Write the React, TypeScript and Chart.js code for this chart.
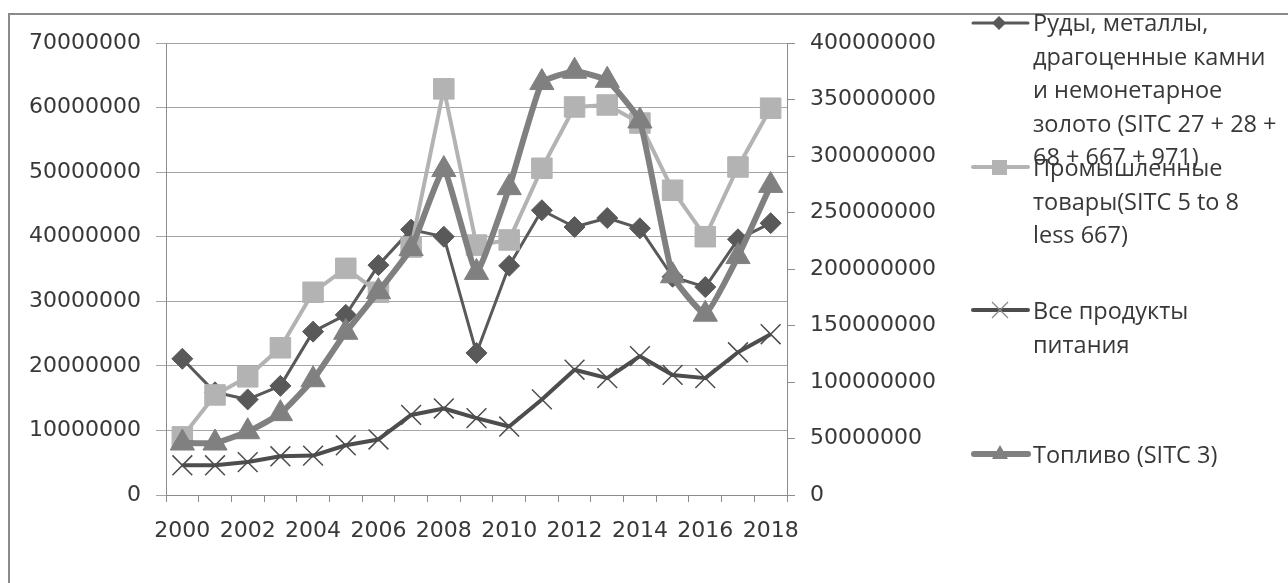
import React, { useEffect, useRef } from 'react';
import { Chart, registerables } from 'chart.js';

Chart.register(...registerables);

const years = ['2000', '2001', '2002', '2003', '2004', '2005', '2006', '2007', '2008', '2009', '2010', '2011', '2012', '2013', '2014', '2015', '2016', '2017', '2018'];

// left axis
const oresMetals = [21100000, 15900000, 14800000, 16900000, 25300000, 27900000, 35600000, 41100000, 40000000, 22000000, 35500000, 44100000, 41500000, 42900000, 41300000, 33800000, 32200000, 39600000, 42100000];
const manufactured = [9000000, 15500000, 18300000, 22800000, 31400000, 35100000, 31400000, 38400000, 62900000, 38700000, 39500000, 50600000, 60100000, 60400000, 57600000, 47200000, 40000000, 50800000, 59900000];
const food = [4600000, 4600000, 5100000, 6000000, 6100000, 7700000, 8600000, 12400000, 13400000, 11900000, 10600000, 14800000, 19400000, 18100000, 21500000, 18600000, 18100000, 22100000, 24900000];
// right axis
const fuel = [46000000, 46000000, 56000000, 72000000, 102000000, 144000000, 180000000, 218000000, 288000000, 197000000, 272000000, 365000000, 375000000, 367000000, 331000000, 194000000, 160000000, 211000000, 274000000];

const leftMax = 70000000;
const leftStep = 10000000;
const rightMax = 400000000;
const rightStep = 50000000;

const nameOres = ['Руды, металлы,', 'драгоценные камни', 'и немонетарное', 'золото (SITC 27 + 28 +', '68 + 667 + 971)'];
const nameManufactured = ['Промышленные', 'товары(SITC 5 to 8', 'less 667)'];
const nameFood = ['Все продукты', 'питания'];
const nameFuel = ['Топливо (SITC 3)'];

const tickFont = { family: 'DejaVu Sans', size: 22 };
const tickColor = '#383838';
const axisColor = '#8c8c8c';

function LegendMarker({ kind, top }: { kind: string; top: number }) {
  let line: React.ReactNode = null;
  let mark: React.ReactNode = null;
  if (kind === 'ores') {
    line = <line x1={2} y1={10} x2={57} y2={10} stroke="#595959" strokeWidth={3} strokeLinecap="round" />;
    mark = <polygon points="28,3 35,10 28,17 21,10" fill="#595959" />;
  } else if (kind === 'man') {
    line = <line x1={2} y1={10} x2={57} y2={10} stroke="#b3b3b3" strokeWidth={4} strokeLinecap="round" />;
    mark = <rect x={21} y={3} width={15} height={15} fill="#b3b3b3" />;
  } else if (kind === 'food') {
    line = <line x1={2} y1={10} x2={57} y2={10} stroke="#4d4d4d" strokeWidth={4} strokeLinecap="round" />;
    mark = (
      <g stroke="#8a8a8a" strokeWidth={1.2}>
        <line x1={21} y1={2} x2={37} y2={18} />
        <line x1={37} y1={2} x2={21} y2={18} />
      </g>
    );
  } else {
    line = <line x1={3} y1={10} x2={57} y2={10} stroke="#808080" strokeWidth={6} strokeLinecap="round" />;
    mark = <polygon points="29,1 37,15 21,15" fill="#808080" />;
  }
  return (
    <svg width={60} height={20} style={{ position: 'absolute', left: 971, top: top - 10 }}>
      {line}
      {mark}
    </svg>
  );
}

function LegendText({ lines, top }: { lines: string[]; top: number }) {
  return (
    <div
      style={{
        position: 'absolute',
        left: 1033,
        top,
        fontFamily: '"Open Sans", sans-serif',
        fontSize: 23.5,
        lineHeight: '33.5px',
        color: '#383838',
        whiteSpace: 'nowrap',
      }}
    >
      {lines.map((l, i) => (
        <div key={i}>{l}</div>
      ))}
    </div>
  );
}

export default function App() {
  const ref = useRef<HTMLCanvasElement>(null);

  useEffect(() => {
    if (!ref.current) return;
    const chart = new Chart(ref.current, {
      type: 'line',
      data: {
        labels: years,
        datasets: [
          {
            label: nameOres.join(' '),
            data: oresMetals,
            yAxisID: 'y',
            borderColor: '#595959',
            backgroundColor: '#595959',
            borderWidth: 3,
            pointStyle: 'rectRot',
            pointRadius: 10.5,
            pointBackgroundColor: '#595959',
            pointBorderColor: '#595959',
            pointBorderWidth: 1,
            tension: 0,
            borderJoinStyle: 'round',
            order: 4,
          },
          {
            label: nameManufactured.join(' '),
            data: manufactured,
            yAxisID: 'y',
            borderColor: '#b3b3b3',
            backgroundColor: '#b3b3b3',
            borderWidth: 4,
            pointStyle: 'rect',
            pointRadius: 14.5,
            pointBackgroundColor: '#b3b3b3',
            pointBorderColor: '#b3b3b3',
            pointBorderWidth: 1,
            tension: 0,
            borderJoinStyle: 'round',
            order: 3,
          },
          {
            label: nameFood.join(' '),
            data: food,
            yAxisID: 'y',
            borderColor: '#4d4d4d',
            backgroundColor: '#4d4d4d',
            borderWidth: 4,
            pointStyle: 'crossRot',
            pointRadius: 14,
            pointBorderColor: '#4d4d4d',
            pointBorderWidth: 1.5,
            tension: 0,
            borderJoinStyle: 'round',
            order: 2,
          },
          {
            label: nameFuel.join(' '),
            data: fuel,
            yAxisID: 'y1',
            borderColor: '#808080',
            backgroundColor: '#808080',
            borderWidth: 6,
            pointStyle: 'triangle',
            pointRadius: 14,
            pointBackgroundColor: '#808080',
            pointBorderColor: '#808080',
            pointBorderWidth: 1,
            tension: 0.12,
            borderJoinStyle: 'round',
            order: 1,
          },
        ],
      },
      options: {
        responsive: false,
        animation: false,
        devicePixelRatio: 1,
        layout: { padding: { top: 43, left: 0, right: 0, bottom: 0 } },
        plugins: { legend: { display: false }, tooltip: { enabled: false } },
        scales: {
          x: {
            type: 'category',
            offset: true,
            grid: { offset: true, drawOnChartArea: false, drawTicks: true, tickLength: 7, color: axisColor },
            border: { display: true, color: axisColor },
            ticks: {
              autoSkip: false,
              maxRotation: 0,
              minRotation: 0,
              padding: 16,
              font: tickFont,
              color: tickColor,
              callback: (_v: any, i: number) => (i % 2 === 0 ? years[i] : ''),
            },
            afterFit: (s: any) => {
              s.height = 88;
            },
          },
          y: {
            position: 'left',
            min: 0,
            max: leftMax,
            grid: { color: '#a6a6a6', tickLength: 10, drawTicks: true },
            border: { display: true, color: axisColor },
            ticks: {
              stepSize: leftStep,
              padding: 15,
              font: tickFont,
              color: tickColor,
              callback: (v: any) => String(v),
            },
            afterFit: (s: any) => {
              s.width = 166;
            },
          },
          y1: {
            position: 'right',
            min: 0,
            max: rightMax,
            grid: { drawOnChartArea: false, tickLength: 8, color: axisColor, drawTicks: true },
            border: { display: true, color: axisColor },
            ticks: {
              stepSize: rightStep,
              padding: 15,
              font: tickFont,
              color: tickColor,
              callback: (v: any) => String(v),
            },
            afterFit: (s: any) => {
              s.width = 188;
            },
          },
        },
      } as any,
    });
    return () => chart.destroy();
  }, []);

  return (
    <div style={{ position: 'fixed', left: 0, top: 0, width: 1288, height: 583, overflow: 'hidden', background: '#fff' }}>
      <div
        style={{
          position: 'absolute',
          left: 8,
          top: 13,
          width: 1400,
          height: 700,
          borderLeft: '2px solid #8a8a8a',
          borderTop: '2px solid #8a8a8a',
        }}
      />
      <canvas ref={ref} width={975} height={583} style={{ position: 'absolute', left: 0, top: 0, width: 975, height: 583 }} />
      <LegendMarker kind="ores" top={23} />
      <LegendText lines={nameOres} top={6} />
      <LegendMarker kind="man" top={167} />
      <LegendText lines={nameManufactured} top={151} />
      <LegendMarker kind="food" top={310} />
      <LegendText lines={nameFood} top={294} />
      <LegendMarker kind="fuel" top={454} />
      <LegendText lines={nameFuel} top={438} />
    </div>
  );
}
